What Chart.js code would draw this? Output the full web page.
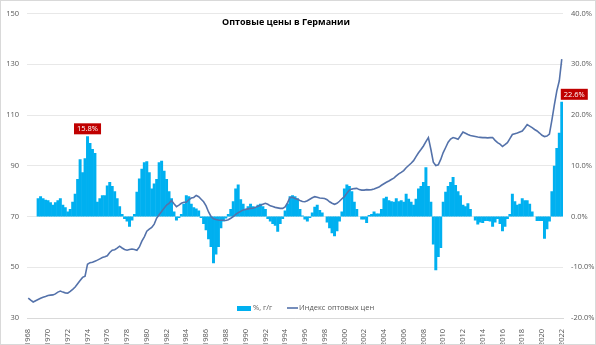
<!DOCTYPE html>
<html>
<head>
<meta charset="utf-8">
<script src="https://cdn.jsdelivr.net/npm/chart.js@4.4.0/dist/chart.umd.min.js"></script>
<style>
  html, body { margin: 0; padding: 0; background: #fff; }
  #wrap { width: 596px; height: 345px; box-sizing: border-box; border: 1px solid #d9d9d9; position: relative; }
</style>
</head>
<body>
<div id="wrap"><canvas id="chart"></canvas></div>
<script>
// quarterly data, 1968 Q1 .. 2022 Q1
const years = [];
for (let y = 1968; y <= 2022; y++) years.push(y);

// Индекс оптовых цен (left axis)
const indexValues = [
  37.8, 37.0, 36.3, 36.8,  // 1968
  37.3, 37.8, 38.2, 38.5,  // 1969
  38.9, 39.0, 39.1, 39.5,  // 1970
  40.2, 40.6, 40.2, 39.9,  // 1971
  39.8, 40.5, 41.3, 42.2,  // 1972
  43.5, 44.8, 46.0, 46.5,  // 1973
  51.2, 51.8, 52.0, 52.4,  // 1974
  52.8, 53.3, 53.8, 54.1,  // 1975
  54.5, 55.8, 56.7, 56.9,  // 1976
  57.5, 58.3, 57.6, 57.0,  // 1977
  56.7, 57.0, 57.2, 57.0,  // 1978
  56.7, 58.0, 60.3, 62.0,  // 1979
  64.2, 65.0, 65.7, 67.0,  // 1980
  69.4, 70.7, 72.0, 73.3,  // 1981
  74.5, 75.2, 76.3, 75.0,  // 1982
  73.9, 74.5, 75.2, 75.6,  // 1983
  75.6, 76.6, 77.3, 77.5,  // 1984
  78.3, 77.8, 76.8, 75.8,  // 1985
  74.2, 71.8, 70.0, 69.1,  // 1986
  68.8, 68.6, 68.5, 68.5,  // 1987
  68.4, 68.7, 69.3, 70.0,  // 1988
  70.8, 71.5, 72.0, 72.6,  // 1989
  72.8, 73.0, 73.2, 73.3,  // 1990
  73.6, 74.0, 74.4, 74.8,  // 1991
  75.2, 74.8, 74.2, 73.9,  // 1992
  73.6, 73.4, 73.2, 73.2,  // 1993
  73.8, 75.5, 77.5, 77.6,  // 1994
  77.1, 76.8, 76.3, 75.9,  // 1995
  75.8, 76.2, 76.8, 77.4,  // 1996
  77.8, 77.6, 77.3, 77.2,  // 1997
  77.1, 76.6, 75.8, 75.2,  // 1998
  74.8, 75.2, 76.0, 77.0,  // 1999
  77.8, 79.2, 80.4, 80.8,  // 2000
  81.0, 81.1, 80.6, 80.4,  // 2001
  80.4, 80.6, 80.5, 80.6,  // 2002
  80.8, 81.2, 81.6, 82.3,  // 2003
  82.9, 83.5, 84.0, 84.6,  // 2004
  85.1, 86.0, 86.8, 87.4,  // 2005
  88.1, 89.2, 90.1, 91.0,  // 2006
  92.0, 93.6, 95.1, 96.4,  // 2007
  97.8, 99.5, 101.1, 96.5, // 2008
  91.4, 90.1, 90.4, 92.5,  // 2009
  95.2, 97.2, 99.3, 100.5, // 2010
  101.1, 100.8, 100.4, 101.8, // 2011
  103.3, 102.8, 102.3, 101.9, // 2012
  101.7, 101.5, 101.3, 101.2, // 2013
  101.1, 101.1, 101.0, 101.1, // 2014
  101.1, 100.0, 99.1, 98.5,   // 2015
  97.6, 98.3, 99.1, 100.7,    // 2016
  102.3, 102.6, 102.9, 103.3, // 2017
  103.7, 104.9, 106.2, 105.6, // 2018
  105.0, 104.3, 103.7, 102.9, // 2019
  102.0, 101.5, 101.7, 102.5, // 2020
  108.0, 114.0, 119.5, 123.5, // 2021
  132.0                       // 2022
];

// %, г/г (right axis)
const yoyValues = [
  null, null, null, null,  // 1968
  3.6, 4.0, 3.6, 3.3,      // 1969
  3.2, 2.8, 2.3, 2.8,      // 1970
  3.2, 3.6, 2.3, 1.8,      // 1971
  1.0, 1.5, 2.9, 4.5,      // 1972
  7.4, 11.3, 8.7, 11.5,    // 1973
  15.8, 14.5, 13.3, 12.5,  // 1974
  2.9, 3.6, 4.2, 4.2,      // 1975
  6.1, 6.8, 6.0, 5.0,      // 1976
  3.6, 2.0, 0.5, -0.5,     // 1977
  -1.0, -2.0, -0.8, 0.5,   // 1978
  4.9, 7.5, 9.4, 10.7,     // 1979
  10.9, 8.7, 5.5, 6.5,     // 1980
  7.4, 10.7, 11.0, 9.0,    // 1981
  7.4, 5.0, 3.6, 1.0,      // 1982
  -0.8, -0.3, 0.5, 2.5,    // 1983
  4.2, 4.0, 2.5, 1.8,      // 1984
  1.6, 1.2, -0.3, -1.5,    // 1985
  -2.7, -4.5, -6.0, -9.2,  // 1986
  -7.5, -6.0, -2.3, -1.0,  // 1987
  -0.4, 0.5, 1.5, 3.0,     // 1988
  5.5, 6.3, 3.4, 2.5,      // 1989
  1.5, 2.0, 2.5, 2.0,      // 1990
  1.8, 2.3, 2.5, 2.0,      // 1991
  1.5, -0.5, -1.0, -1.5,   // 1992
  -1.8, -3.0, -1.5, -0.5,  // 1993
  1.2, 2.5, 4.0, 4.2,      // 1994
  4.0, 3.6, 1.5, 0.2,      // 1995
  -0.6, -1.0, -0.3, 0.8,   // 1996
  1.9, 2.3, 1.3, 0.8,      // 1997
  0.0, -1.2, -2.3, -3.3,   // 1998
  -3.9, -2.9, -1.0, 1.0,   // 1999
  5.5, 6.3, 6.0, 5.0,      // 2000
  2.9, 1.5, 0.0, -0.6,     // 2001
  -0.6, -1.3, 0.3, 0.5,    // 2002
  1.0, 0.6, 0.6, 1.5,      // 2003
  3.6, 3.9, 3.2, 3.0,      // 2004
  2.9, 3.6, 3.0, 3.2,      // 2005
  2.9, 4.5, 3.5, 2.9,      // 2006
  2.3, 3.5, 5.5, 6.0,      // 2007
  6.8, 9.7, 6.0, 2.9,      // 2008
  -5.5, -10.6, -8.0, -6.2, // 2009
  2.9, 4.9, 6.0, 6.8,      // 2010
  7.8, 6.2, 5.0, 4.2,      // 2011
  2.3, 2.0, 2.6, 1.5,      // 2012
  0.0, -0.8, -1.6, -1.2,   // 2013
  -1.3, -0.9, -0.9, -1.0,  // 2014
  -2.0, -1.2, -0.5, -1.5,  // 2015
  -2.9, -2.0, -0.5, 0.5,   // 2016
  4.5, 3.0, 2.3, 2.5,      // 2017
  3.6, 3.2, 3.2, 2.5,      // 2018
  1.0, 0.0, -0.9, -0.9,    // 2019
  -0.9, -4.4, -2.5, -1.0,  // 2020
  5.0, 10.0, 13.5, 16.5,   // 2021
  22.6                     // 2022
];

const leftTicks = [30, 50, 70, 90, 110, 130, 150];
const rightTicks = [-20, -10, 0, 10, 20, 30, 40];
const callouts = ['1974-Q1', '2022-Q1'];

// category labels "1968-Q1" ...
const labels = [];
years.forEach(y => {
  for (let q = 1; q <= 4; q++) {
    if (labels.length < indexValues.length) labels.push(y + '-Q' + q);
  }
});

const FONT = '"Open Sans", "Noto Sans", sans-serif';
const GREY = '#595959';
const BAR_COLOR = '#00b0f0';
const LINE_COLOR = '#5472aa';

// title inside plot area
const titlePlugin = {
  id: 'titleInside',
  afterDraw(chart) {
    const ctx = chart.ctx;
    ctx.save();
    ctx.font = 'bold 9px ' + FONT;
    ctx.fillStyle = '#000';
    ctx.textAlign = 'center';
    ctx.textBaseline = 'middle';
    ctx.fillText('Оптовые цены в Германии', 285, 21);
    ctx.restore();
  }
};

// legend inside plot area, bottom
const legendPlugin = {
  id: 'legendInside',
  afterDraw(chart) {
    const ctx = chart.ctx;
    const y = 307;
    ctx.save();
    ctx.font = '7.5px ' + FONT;
    ctx.textBaseline = 'middle';
    ctx.fillStyle = BAR_COLOR;
    ctx.fillRect(236, y - 2, 14, 5);
    ctx.fillStyle = GREY;
    ctx.fillText(chart.data.datasets[1].label, 252, y);
    ctx.strokeStyle = LINE_COLOR;
    ctx.lineWidth = 1.6;
    ctx.beginPath();
    ctx.moveTo(286, y);
    ctx.lineTo(297, y);
    ctx.stroke();
    ctx.fillText(chart.data.datasets[0].label, 298, y);
    ctx.restore();
  }
};

// red value boxes
const calloutPlugin = {
  id: 'callouts',
  afterDatasetsDraw(chart) {
    const ctx = chart.ctx;
    const meta = chart.getDatasetMeta(1);
    ctx.save();
    ctx.font = '7.5px ' + FONT;
    ctx.textBaseline = 'middle';
    callouts.forEach((lab, n) => {
      const i = labels.indexOf(lab);
      const bar = meta.data[i];
      const text = yoyValues[i].toFixed(1) + '%';
      const w = ctx.measureText(text).width + 6;
      const h = 11;
      let x0, y0;
      if (n === callouts.length - 1) {
        x0 = bar.x - 1;
        y0 = bar.y - h - 2;
      } else {
        x0 = bar.x - w / 2;
        y0 = bar.y - h - 2;
      }
      ctx.fillStyle = '#c00000';
      ctx.fillRect(x0, y0, w, h);
      ctx.fillStyle = '#fff';
      ctx.textAlign = 'left';
      ctx.fillText(text, x0 + 3, y0 + h / 2 + 0.5);
    });
    ctx.restore();
  }
};

new Chart(document.getElementById('chart'), {
  type: 'bar',
  data: {
    labels: labels,
    datasets: [
      {
        type: 'line',
        label: 'Индекс оптовых цен',
        data: indexValues,
        yAxisID: 'y',
        borderColor: LINE_COLOR,
        borderWidth: 1.6,
        pointRadius: 0,
        tension: 0,
        order: 1
      },
      {
        type: 'bar',
        label: '%, г/г',
        data: yoyValues,
        yAxisID: 'y1',
        backgroundColor: BAR_COLOR,
        borderWidth: 0,
        inflateAmount: 0,
        barPercentage: 1.2,
        categoryPercentage: 1,
        order: 2
      }
    ]
  },
  options: {
    responsive: true,
    maintainAspectRatio: false,
    animation: false,
    layout: { padding: { top: 8, left: 0, right: 0, bottom: 0 } },
    plugins: {
      legend: { display: false },
      tooltip: { enabled: false },
      title: { display: false }
    },
    scales: {
      x: {
        grid: { display: false },
        border: { display: true, color: '#d9d9d9' },
        afterFit: scale => { scale.height = 26; },
        ticks: {
          autoSkip: false,
          minRotation: 90,
          maxRotation: 90,
          color: GREY,
          font: { family: FONT, size: 7.5 },
          padding: 3,
          callback: function (val) {
            const parts = this.getLabelForValue(val).split('-');
            return (parts[1] === 'Q1' && +parts[0] % 2 === 0) ? parts[0] : null;
          }
        }
      },
      y: {
        position: 'left',
        min: leftTicks[0],
        max: leftTicks[leftTicks.length - 1],
        afterBuildTicks: axis => { axis.ticks = leftTicks.map(v => ({ value: v })); },
        afterFit: scale => { scale.width = 26; },
        grid: { color: '#e8e8e8', drawTicks: false },
        border: { display: false },
        ticks: { color: GREY, font: { family: FONT, size: 7.5 }, padding: 8 }
      },
      y1: {
        position: 'right',
        min: rightTicks[0],
        max: rightTicks[rightTicks.length - 1],
        afterBuildTicks: axis => { axis.ticks = rightTicks.map(v => ({ value: v })); },
        afterFit: scale => { scale.width = 32; },
        grid: { display: false, drawTicks: false },
        border: { display: false },
        ticks: {
          color: GREY,
          font: { family: FONT, size: 7.5 },
          padding: 8,
          callback: v => v.toFixed(1) + '%'
        }
      }
    }
  },
  plugins: [titlePlugin, legendPlugin, calloutPlugin]
});
</script>
</body>
</html>
